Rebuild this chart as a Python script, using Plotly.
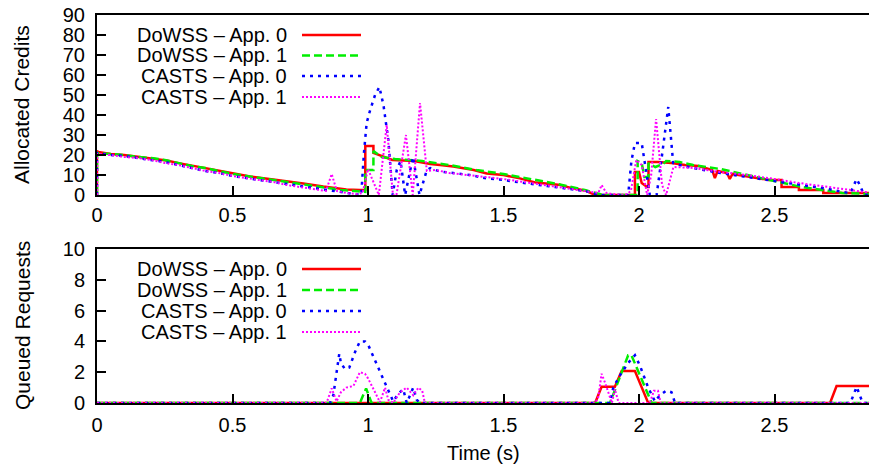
import plotly.graph_objects as go

# ---------------- data ----------------
series_names = ["DoWSS \u2013 App. 0", "DoWSS \u2013 App. 1", "CASTS \u2013 App. 0", "CASTS \u2013 App. 1"]

# Allocated credits (top panel)
credits_dowss0_t = [0, 0, 0.005, 0.05, 0.1, 0.17, 0.2, 0.257, 0.306, 0.368, 0.44, 0.503, 0.565, 0.65, 0.7, 0.761,
                    0.835, 0.92, 0.97, 0.99, 0.99, 1.02, 1.02, 1.09, 1.17, 1.23, 1.266, 1.315, 1.39, 1.438, 1.5,
                    1.56, 1.62, 1.71, 1.745, 1.807, 1.83, 1.86, 1.985, 1.985, 2.0, 2.01, 2.03, 2.035, 2.035, 2.07,
                    2.12, 2.17, 2.22, 2.27, 2.28, 2.29, 2.325, 2.335, 2.345, 2.42, 2.48, 2.526, 2.526, 2.59, 2.59,
                    2.68, 2.68, 2.86]
credits_dowss0_v = [0, 22, 21.5, 20.5, 20, 18.8, 18.5, 17.2, 15.8, 14.2, 12.5, 10.8, 9.2, 7.8, 7, 5.8,
                    4.2, 2.8, 2.5, 2.5, 24.5, 24.5, 21, 17.5, 17, 15.5, 15, 14.2, 12.5, 10.8, 10,
                    8.3, 6.2, 5, 3.7, 2, 0.5, 0, 0, 11.5, 11.5, 6, 4, 4, 16.5, 16.5,
                    16, 15, 14.5, 12.5, 8.5, 12, 11, 8, 10.5, 9, 7.5, 7.5, 4, 4, 2.5,
                    2.5, 1, 1]

credits_dowss1_t = [0, 0, 0.05, 0.1, 0.15, 0.2, 0.25, 0.3, 0.35, 0.4, 0.45, 0.5, 0.55, 0.6, 0.65, 0.7, 0.75,
                    0.8, 0.85, 0.9, 0.95, 0.99, 0.99, 1.02, 1.02, 1.05, 1.1, 1.2, 1.3, 1.4, 1.5, 1.6, 1.7, 1.8,
                    1.85, 1.87, 1.995, 1.995, 2.01, 2.02, 2.035, 2.035, 2.06, 2.09, 2.1, 2.15, 2.2, 2.3, 2.4,
                    2.5, 2.6, 2.7, 2.75, 2.86]
credits_dowss1_v = [0, 21, 20.5, 20, 19, 18.5, 17.5, 16, 14.5, 13.5, 12, 10.5, 9.5, 8.5, 7.5, 6.5, 5.5,
                    4.5, 3.5, 2.5, 2, 1.5, 12.5, 12.5, 22, 19, 18, 17, 15, 12.5, 10.5, 8, 5.5, 2.5,
                    0.5, 0, 0, 17, 16, 9, 9, 16, 14, 15.5, 17, 16.5, 15, 13, 10,
                    7, 4, 2, 1, 0.5]

credits_casts0_t = [0, 0, 0.05, 0.1, 0.15, 0.2, 0.25, 0.3, 0.35, 0.4, 0.45, 0.5, 0.55, 0.6, 0.65, 0.7, 0.75,
                    0.8, 0.85, 0.9, 0.95, 0.975, 0.985, 0.995, 1.007, 1.026, 1.042, 1.057, 1.075, 1.091, 1.106,
                    1.12, 1.137, 1.166, 1.19, 1.217, 1.23, 1.266, 1.314, 1.376, 1.438, 1.5, 1.56, 1.62, 1.68,
                    1.745, 1.807, 1.85, 1.96, 1.972, 1.985, 2.01, 2.04, 2.065, 2.085, 2.108, 2.126, 2.15, 2.2,
                    2.3, 2.4, 2.5, 2.6, 2.7, 2.75, 2.78, 2.803, 2.815, 2.83, 2.86]
credits_casts0_v = [0, 21, 20, 19.5, 18.5, 17.5, 16.5, 15, 13.5, 12, 11, 9.5, 8.5, 7.5, 6.5, 5.5, 4.5,
                    3.5, 2.5, 1.5, 0.5, 0, 21, 36, 42, 50, 54, 45, 27.5, 0, 12.5,
                    17, 0, 19, 0, 12.5, 13.5, 11.7, 11, 10, 8.3, 7.5, 6.3, 5.3, 4,
                    3, 1.8, 0, 0, 17, 26, 26, 0, 0, 20, 44, 16, 15, 13.5,
                    11, 9, 7, 5, 3, 1.5, 1, 8, 5, 0, 0]

credits_casts1_t = [0, 0, 0.05, 0.1, 0.15, 0.2, 0.25, 0.3, 0.35, 0.4, 0.45, 0.5, 0.55, 0.6, 0.65, 0.7, 0.75,
                    0.8, 0.845, 0.866, 0.885, 0.92, 0.96, 0.98, 1.0, 1.04, 1.069, 1.092, 1.105, 1.14, 1.165,
                    1.192, 1.217, 1.25, 1.3, 1.4, 1.5, 1.6, 1.7, 1.8, 1.85, 1.862, 1.88, 1.9, 1.95, 1.97, 1.99,
                    2.01, 2.03, 2.045, 2.063, 2.085, 2.1, 2.127, 2.2, 2.3, 2.4, 2.5, 2.59, 2.7, 2.78, 2.86]
credits_casts1_v = [0, 20.5, 20, 19, 18.5, 17.5, 16, 15, 13.5, 12, 11, 9.5, 8.5, 7.5, 6.5, 5, 4,
                    3, 2, 10.5, 2, 1, 0.5, 1, 13, 0, 35, 0, 0, 30, 0,
                    46, 12, 12.5, 11, 9.5, 8, 6, 4, 2, 1, 5, 1, 0.5, 0, 2, 17.5,
                    15, 0, 10, 38, 5, 0, 14, 13.5, 11.5, 10, 8, 6, 4, 2.5, 1]

# Queued requests (bottom panel)
queued_dowss0_t = [0, 1.838, 1.862, 1.911, 1.936, 1.985, 2.034, 2.705, 2.729, 2.86]
queued_dowss0_v = [0, 0, 1.05, 1.05, 2.08, 2.08, 0, 0, 1.1, 1.1]

queued_dowss1_t = [0, 0.97, 0.993, 1.013, 1.893, 1.96, 1.972, 2.047, 2.86]
queued_dowss1_v = [0, 0, 0.95, 0, 0, 3.1, 3.1, 0, 0]

queued_casts0_t = [0, 0.86, 0.872, 0.894, 0.9, 0.915, 0.931, 0.952, 0.97, 0.989, 1.0, 1.02, 1.044, 1.063,
                   1.075, 1.093, 1.112, 1.13, 1.143, 1.155, 1.167, 1.18, 1.193, 1.893, 1.905, 1.93, 1.96,
                   1.985, 2.004, 2.034, 2.059, 2.077, 2.1, 2.12, 2.133, 2.78, 2.79, 2.803, 2.815, 2.825, 2.86]
queued_casts0_v = [0, 0, 0.5, 3.2, 2.6, 2.2, 2.3, 3.3, 4, 4, 3.8, 3.0, 2.0, 1.3,
                   0.7, 0.1, 0.6, 0.9, 0, 0.5, 1.0, 0.2, 0, 0, 1, 1.8, 2.6,
                   3.1, 2.4, 1.0, 0.1, 0.5, 0.8, 0.7, 0, 0, 0.5, 1.05, 0.5, 0, 0]

queued_casts1_t = [0, 0.847, 0.866, 0.884, 0.9, 0.92, 0.946, 0.97, 0.989, 1.0, 1.026, 1.044, 1.063, 1.075,
                   1.093, 1.118, 1.143, 1.167, 1.186, 1.2, 1.21, 1.838, 1.85, 1.862, 1.875, 1.9, 1.911, 1.925,
                   2.04, 2.055, 2.07, 2.08, 2.86]
queued_casts1_v = [0, 0, 0.95, 0.1, 0.7, 1.0, 1.1, 2.0, 1.9, 1.6, 0.7, 0.05, 1.0, 0.2,
                   0, 0.7, 1.0, 0.5, 1.0, 0.8, 0, 0, 0.4, 1.9, 1.3, 0, 0.9, 0,
                   0, 0.8, 0.8, 0, 0]

x_tick_vals = [0, 0.5, 1, 1.5, 2, 2.5]
x_tick_text = ["0", "0.5", "1", "1.5", "2", "2.5"]
credits_ticks = [0, 10, 20, 30, 40, 50, 60, 70, 80, 90]
queued_ticks = [0, 2, 4, 6, 8, 10]

# ---------------- styling ----------------
colors = ["#ff0000", "#00ee00", "#0000ff", "#ff00ff"]
dashes = ["solid", "8px,4px", "3px,5px", "2px,2px"]
widths = [2.5, 2.5, 2.5, 2]
FONT = "Liberation Sans, Arial, sans-serif"
FS = 20
FS_TITLE = 21

W, H = 869, 468
L, R, T, B = 97, 0, 15, 65
plot_h = H - T - B  # 388


def py2paper(py):
    return (H - B - py) / plot_h


def px2paper(px):
    return (px - L) / (W - L - R)


fig = go.Figure()

top = [(credits_dowss0_t, credits_dowss0_v), (credits_dowss1_t, credits_dowss1_v),
       (credits_casts0_t, credits_casts0_v), (credits_casts1_t, credits_casts1_v)]
bot = [(queued_dowss0_t, queued_dowss0_v), (queued_dowss1_t, queued_dowss1_v),
       (queued_casts0_t, queued_casts0_v), (queued_casts1_t, queued_casts1_v)]

for i, (tx, vy) in enumerate(top):
    fig.add_trace(go.Scatter(x=tx, y=vy, mode="lines", name=series_names[i], showlegend=False,
                             line=dict(color=colors[i], dash=dashes[i], width=widths[i]),
                             xaxis="x", yaxis="y"))
for i, (tx, vy) in enumerate(bot):
    fig.add_trace(go.Scatter(x=tx, y=vy, mode="lines", name=series_names[i], showlegend=False,
                             line=dict(color=colors[i], dash=dashes[i], width=widths[i]),
                             xaxis="x2", yaxis="y2"))

xmax = (W - L) / 271.0
axis_common = dict(showgrid=False, zeroline=False, showline=True, linecolor="black", linewidth=2,
                   ticks="inside", ticklen=9, tickwidth=1.5, tickcolor="black", automargin=False,
                   tickfont=dict(family=FONT, size=FS, color="black"))

top_dom = [py2paper(195), 1.0]
bot_dom = [0.0, py2paper(249)]

fig.update_layout(
    width=W, height=H,
    margin=dict(l=L, r=R, t=T, b=B),
    paper_bgcolor="white", plot_bgcolor="white",
    showlegend=False,
    xaxis=dict(axis_common, range=[0, xmax], tickvals=x_tick_vals, ticktext=x_tick_text,
               anchor="y", mirror=True, ticklabelstandoff=1),
    yaxis=dict(axis_common, range=[0, 90], tickvals=credits_ticks, domain=top_dom, anchor="x",
               ticklabelstandoff=6),
    xaxis2=dict(axis_common, range=[0, xmax], tickvals=x_tick_vals, ticktext=x_tick_text,
                anchor="y2", mirror=True, ticklabelstandoff=3),
    yaxis2=dict(axis_common, range=[0, 10], tickvals=queued_ticks, domain=bot_dom, anchor="x2",
                ticklabelstandoff=6),
)

annotations = [
    dict(text="Allocated Credits", x=px2paper(22), y=py2paper(105), xref="paper", yref="paper",
         textangle=-90, showarrow=False, xanchor="center", yanchor="middle",
         font=dict(family=FONT, size=FS_TITLE, color="black")),
    dict(text="Queued Requests", x=px2paper(22), y=py2paper(326), xref="paper", yref="paper",
         textangle=-90, showarrow=False, xanchor="center", yanchor="middle",
         font=dict(family=FONT, size=FS_TITLE, color="black")),
    dict(text="Time (s)", x=px2paper(483), y=py2paper(453), xref="paper", yref="paper",
         showarrow=False, xanchor="center", yanchor="middle",
         font=dict(family=FONT, size=FS, color="black")),
]
shapes = []
legend_rows = {"top": [35, 55.5, 76, 97], "bot": [269, 290, 311, 332]}
for key, rows in legend_rows.items():
    for i, yy in enumerate(rows):
        annotations.append(dict(text=series_names[i], x=px2paper(288), y=py2paper(yy),
                                xref="paper", yref="paper", showarrow=False,
                                xanchor="right", yanchor="middle", borderpad=0,
                                font=dict(family=FONT, size=FS, color="black")))
        shapes.append(dict(type="line", xref="paper", yref="paper",
                           x0=px2paper(302), x1=px2paper(361), y0=py2paper(yy), y1=py2paper(yy),
                           line=dict(color=colors[i], dash=dashes[i], width=widths[i])))

fig.update_layout(annotations=annotations, shapes=shapes)
fig.write_html("out.html", config={"displayModeBar": False},
               post_script="document.body.style.margin='0';document.body.style.overflow='hidden';")
